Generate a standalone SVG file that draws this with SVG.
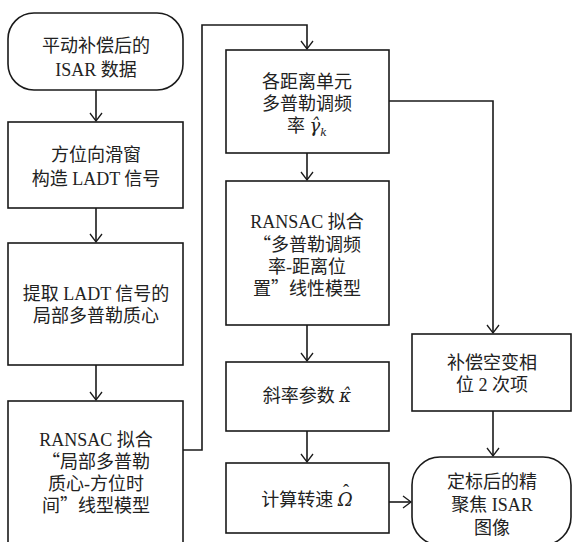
<svg xmlns="http://www.w3.org/2000/svg" width="573" height="542" viewBox="0 0 573 542">
<style>
.box{fill:#fff;stroke:#1a1a1a;stroke-width:1.6}
.ln{fill:none;stroke:#1a1a1a;stroke-width:1.6}
text{font-family:"Liberation Serif","Noto Sans CJK SC",serif;font-size:18px;fill:#222;text-anchor:middle}
.l{font-family:"Liberation Serif",serif}
.q{font-family:"Noto Sans CJK SC",sans-serif}
.m{font-family:"DejaVu Serif","Liberation Serif",serif;font-style:italic}
.s{font-size:11px}
</style>
<defs>
<marker id="ah" viewBox="-10 -7 12 14" refX="0" refY="0" markerWidth="12" markerHeight="14" markerUnits="userSpaceOnUse" orient="auto">
<path d="M-8,-6 L0,0 L-8,6" fill="none" stroke="#1a1a1a" stroke-width="1.3"/>
</marker>
</defs>
<rect width="573" height="542" fill="#fff"/>
<g id="connectors">
<path class="ln" d="M96,90 V121" marker-end="url(#ah)"/>
<path class="ln" d="M96,208 V242" marker-end="url(#ah)"/>
<path class="ln" d="M96,365 V400" marker-end="url(#ah)"/>
<path class="ln" d="M183,450 H202 V25 H307 V49" marker-end="url(#ah)"/>
<path class="ln" d="M307,153 V180" marker-end="url(#ah)"/>
<path class="ln" d="M307,325 V361" marker-end="url(#ah)"/>
<path class="ln" d="M307,431 V462" marker-end="url(#ah)"/>
<path class="ln" d="M389,101 H493 V333" marker-end="url(#ah)"/>
<path class="ln" d="M493,411 V456" marker-end="url(#ah)"/>
<path class="ln" d="M389,502 H411" marker-end="url(#ah)"/>
</g>
<g id="n1">
<rect class="box" x="8" y="13" width="175" height="77" rx="26"/>
<text x="96" y="52">平动补偿后的</text>
<text x="96" y="76"><tspan class="l">ISAR </tspan>数据</text>
</g>
<g id="n2">
<rect class="box" x="8" y="122" width="175" height="86"/>
<text x="96" y="161">方位向滑窗</text>
<text x="96" y="185">构造<tspan class="l"> LADT </tspan>信号</text>
</g>
<g id="n3">
<rect class="box" x="8" y="243" width="175" height="122"/>
<text x="96" y="300">提取<tspan class="l"> LADT </tspan>信号的</text>
<text x="96" y="322">局部多普勒质心</text>
</g>
<g id="n4">
<rect class="box" x="8" y="401" width="175" height="150"/>
<text x="96" y="446"><tspan class="l">RANSAC </tspan>拟合</text>
<text x="96" y="468"><tspan class="q">“</tspan>局部多普勒</text>
<text x="96" y="490">质心-方位时</text>
<text x="96" y="512">间<tspan class="q">”</tspan>线型模型</text>
</g>
<g id="nA">
<rect class="box" x="226" y="50" width="163" height="103"/>
<text x="307" y="88">各距离单元</text>
<text x="307" y="110">多普勒调频</text>
<text x="307" y="132">率 <tspan class="m">γ̂</tspan><tspan class="m s" dy="4">k</tspan></text>
</g>
<g id="nB">
<rect class="box" x="226" y="181" width="163" height="144"/>
<text x="307" y="228"><tspan class="l">RANSAC </tspan>拟合</text>
<text x="307" y="251"><tspan class="q">“</tspan>多普勒调频</text>
<text x="307" y="273">率-距离位</text>
<text x="307" y="295">置<tspan class="q">”</tspan>线性模型</text>
</g>
<g id="nC">
<rect class="box" x="226" y="362" width="163" height="69"/>
<text x="307" y="402">斜率参数 <tspan class="m">κ̂</tspan></text>
</g>
<g id="nD">
<rect class="box" x="226" y="463" width="163" height="70"/>
<text x="307" y="506">计算转速 <tspan class="m">Ω</tspan></text>
<text class="l" x="346" y="497" style="font-size:18px">ˆ</text>
</g>
<g id="nE">
<rect class="box" x="412" y="334" width="159" height="77"/>
<text x="492" y="369">补偿空变相</text>
<text x="492" y="391">位<tspan class="l"> 2 </tspan>次项</text>
</g>
<g id="nF">
<rect class="box" x="412" y="457" width="159" height="88" rx="28"/>
<text x="492" y="488">定标后的精</text>
<text x="492" y="511">聚焦<tspan class="l"> ISAR</tspan></text>
<text x="492" y="534">图像</text>
</g>
</svg>
